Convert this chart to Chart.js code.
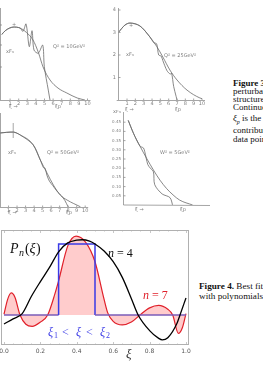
<!DOCTYPE html>
<html><head><meta charset="utf-8">
<script src="https://cdn.jsdelivr.net/npm/chart.js@4.4.1/dist/chart.umd.min.js"></script>
<style>
html,body{margin:0;padding:0;background:#fff;}
body{width:263px;height:365px;overflow:hidden;position:relative;}
canvas{position:absolute;}
.cap{position:absolute;left:0;font-family:"Liberation Serif",serif;font-size:9px;color:#111;white-space:nowrap;line-height:9px;}
.cap b{font-weight:bold;}
</style></head><body>
<div class="cap" style="left:233px;top:79px;"><b>Figure 3.</b> Structure functions from</div>
<div class="cap" style="left:233px;top:87px;">perturbative QCD and the</div>
<div class="cap" style="left:233px;top:95px;">structure of resonances.</div>
<div class="cap" style="left:233px;top:103px;">Continuous curves show</div>
<div class="cap" style="left:233px;top:114px;"><i>ξ<sub style="font-size:6px">p</sub></i> is the pion threshold</div>
<div class="cap" style="left:233px;top:126px;">contribution of the</div>
<div class="cap" style="left:233px;top:135px;">data points.</div>
<div class="cap" style="left:199px;top:282px;font-size:9.2px;"><b>Figure 4.</b> Best fit of the box</div>
<div class="cap" style="left:199px;top:292px;font-size:9.2px;">with polynomials of order n</div>
<script>
// ---------- Figure 4 data ----------
const xi4 = [0,0.05,0.1,0.15,0.2,0.25,0.3,0.35,0.4,0.43,0.47,0.5,0.55,0.6,0.65,0.7,0.737,0.8,0.85,0.87,0.9,0.95,0.967,1.0];
const p4  = [-0.127,-0.055,0.02,0.26,0.47,0.67,0.89,1.015,1.055,1.06,1.04,1.0,0.9,0.75,0.53,0.23,0,-0.22,-0.33,-0.352,-0.32,-0.12,0,0.24];
const xi7 = [0,0.02,0.04,0.06,0.088,0.12,0.155,0.2,0.24,0.28,0.3,0.35,0.396,0.45,0.5,0.55,0.57,0.6,0.65,0.7,0.747,0.8,0.85,0.9,0.927,0.958,0.98,1.0];
const p7  = [0.01,0.22,0.31,0.25,0,-0.13,-0.16,-0.1,0.0,0.3,0.48,0.97,1.11,1.02,0.75,0.22,0.03,-0.09,-0.14,-0.1,0.0,0.1,0.135,0.08,0,-0.26,-0.18,0.02];
const boxX = [0,0.3,0.3,0.5,0.5,1];
const boxY = [0,0,1,1,0,0];
const xTickLabels = ["0.0","0.2","0.4","0.6","0.8","1.0"];

// ---------- Figure 3 data (four panels) ----------
const aX  = [0,0.5,1.34,2.15,2.9,3.66,4.3,4.83,5.64,6.57,7.6,8.8,9.7];
const aY  = [2.9,3.1,3.24,3.2,3.0,2.67,2.1,1.47,0.89,0.53,0.31,0.09,0];
const aBX = [0,0.5,1.34,2.15,2.5,2.85,3.23,3.55,3.78,4.28,4.79,4.98,5.44,5.64];
const aBY = [2.9,3.1,3.24,3.2,3.05,3.38,2.37,3.08,2.22,2.08,2.44,1.48,0.44,0];
const bX  = [0,0.75,1.35,2.55,3.75,4.6,5.3,6.15,7.0,8.2,9.75,10.4];
const bY  = [3.02,3.33,3.42,3.29,2.8,2.36,1.91,1.33,0.89,0.44,0.09,0.02];
const bBX = [0,0.75,1.35,2.55,3.75,4.2,4.55,4.8,5.1,5.3,5.8,6.2,6.35,6.6,6.9,7.0];
const bBY = [3.02,3.33,3.42,3.29,2.8,2.55,2.5,2.0,1.95,1.75,1.3,1.15,1.2,0.6,0.15,0];
const cX  = [0,1.55,2.38,3.9,4.73,5.52,6.26,7.08,7.87,9.44];
const cY  = [3.29,3.33,3.2,2.76,2.09,1.51,0.98,0.53,0.31,0.01];
const cBX = [0,1.55,2.38,3.9,4.73,5.1,5.3,5.5,5.8,6.2,6.8,7.2,7.6,8.0];
const cBY = [3.29,3.33,3.2,2.76,2.09,1.75,1.72,1.42,1.15,0.95,0.65,0.5,0.3,0];
const dX  = [0.6,1.2,1.95,2.7,3.5,4.25,5.0,5.75,6.5,8.0];
const dY  = [0.46,0.39,0.32,0.255,0.19,0.135,0.09,0.055,0.027,0];
const dBX = [0.6,1.2,1.95,2.35,2.5,2.85,3.15,3.5,3.65,4.5,5.4,5.75];
const dBY = [0.46,0.39,0.32,0.31,0.29,0.22,0.2,0.18,0.11,0.06,0.04,-0.01];
const tenTicks = ["1","2","3","4","5","6","7","8","9","10"];
const dYTicks = ["0.45","0.40","0.35","0.30","0.25","0.20","0.15","0.10","0.05"];

function pts(xs, ys){ return xs.map((x,i)=>({x:x, y:ys[i]})); }

function makeCanvas(left, top, w, h){
  const c = document.createElement('canvas');
  c.width = w; c.height = h;
  c.style.left = left+'px'; c.style.top = top+'px';
  c.style.width = w+'px'; c.style.height = h+'px';
  document.body.appendChild(c);
  return c;
}

function baseOptions(pad, xr, yr){
  return {
    responsive:false, animation:false, devicePixelRatio:1,
    layout:{padding:pad},
    plugins:{legend:{display:false}, tooltip:{enabled:false}},
    elements:{point:{radius:0}},
    scales:{
      x:{type:'linear', display:false, min:xr[0], max:xr[1]},
      y:{type:'linear', display:false, min:yr[0], max:yr[1]}
    }
  };
}

// ---------- Figure 4 chart ----------
const fig4Extras = {
  id:'fig4Extras',
  afterDraw(chart){
    const {ctx, chartArea:a, scales:{x, y}} = chart;
    ctx.save();
    ctx.strokeStyle = '#b0b0b0'; ctx.lineWidth = 1;
    ctx.strokeRect(a.left+0.5, a.top+0.5, a.right-a.left-1, a.bottom-a.top-1);
    ctx.lineWidth = 0.7;
    for (let v=0; v<=1.0001; v+=0.05){
      const px = Math.round(x.getPixelForValue(v))+0.5;
      const L = (Math.round(v*100)%20===0) ? 3 : 1.5;
      ctx.beginPath(); ctx.moveTo(px, a.bottom); ctx.lineTo(px, a.bottom-L);
      ctx.moveTo(px, a.top); ctx.lineTo(px, a.top+L); ctx.stroke();
    }
    ctx.fillStyle = '#555'; ctx.font = '6px "DejaVu Sans", sans-serif';
    ctx.textAlign = 'center'; ctx.textBaseline = 'top';
    xTickLabels.forEach(t => {
      ctx.fillText(t, x.getPixelForValue(parseFloat(t)), a.bottom+3);
    });
    ctx.textAlign = 'left'; ctx.textBaseline = 'alphabetic';
    // P_n(xi)
    ctx.fillStyle = '#111';
    ctx.font = 'italic 14px "Liberation Serif", serif';
    ctx.fillText('P', 10, 28);
    ctx.font = 'italic 10px "Liberation Serif", serif';
    ctx.fillText('n', 19, 31);
    ctx.font = '14px "Liberation Serif", serif';
    ctx.fillText('(', 25, 28);
    ctx.font = 'italic 14px "Liberation Serif", serif';
    ctx.fillText('ξ', 29.5, 28);
    ctx.font = '14px "Liberation Serif", serif';
    ctx.fillText(')', 36, 28);
    // n = 4
    ctx.font = 'italic 12px "Liberation Serif", serif';
    ctx.fillText('n', 108, 32);
    ctx.font = '12px "Liberation Serif", serif';
    ctx.fillText('= 4', 117, 32);
    // n = 7
    ctx.fillStyle = '#e0202a';
    ctx.font = 'italic 12px "Liberation Serif", serif';
    ctx.fillText('n', 143, 74);
    ctx.font = '12px "Liberation Serif", serif';
    ctx.fillText('= 7', 152, 74);
    // xi1 < xi < xi2
    ctx.fillStyle = '#3b3be6';
    ctx.font = 'italic 12px "Liberation Serif", serif';
    ctx.fillText('ξ', 48, 111);
    ctx.font = '8px "Liberation Serif", serif';
    ctx.fillText('1', 54, 113);
    ctx.font = '12px "Liberation Serif", serif';
    ctx.fillText('<', 62, 111);
    ctx.font = 'italic 12px "Liberation Serif", serif';
    ctx.fillText('ξ', 76, 111);
    ctx.font = '12px "Liberation Serif", serif';
    ctx.fillText('<', 86, 111);
    ctx.font = 'italic 12px "Liberation Serif", serif';
    ctx.fillText('ξ', 100, 111);
    ctx.font = '8px "Liberation Serif", serif';
    ctx.fillText('2', 106, 113);
    // axis label
    ctx.fillStyle = '#333';
    ctx.font = 'italic 13px "Liberation Serif", serif';
    ctx.fillText('ξ', 126, 133);
    ctx.restore();
  }
};

const c4 = makeCanvas(0, 225, 200, 140);
const opt4 = baseOptions({left:1, right:11, top:5, bottom:20}, [-0.0165, 1.0165], [-0.423, 1.197]);
new Chart(c4, {
  type:'scatter',
  data:{datasets:[
    {data:pts(xi4,p4), showLine:true, borderColor:'#000', borderWidth:1.3, cubicInterpolationMode:'monotone', order:1},
    {data:pts(boxX,boxY), showLine:true, borderColor:'#3b3be6', borderWidth:1.5, tension:0, order:2,
      segment:{borderColor: s => (s.p0.parsed.y===0 && s.p1.parsed.y===0) ? '#7a5cb8' : '#3b3be6'}},
    {data:pts(xi7,p7), showLine:true, borderColor:'#e0202a', borderWidth:1.2, cubicInterpolationMode:'monotone',
      fill:'origin', backgroundColor:'rgba(255,120,120,0.38)', order:3}
  ]},
  options:opt4,
  plugins:[fig4Extras]
});

// ---------- Figure 3 panels ----------
function panel(left, top, w, h, pad, xr, yr, smooth, bumpy, extras){
  const c = makeCanvas(left, top, w, h);
  const ds = [
    {data:smooth, showLine:true, borderColor:'#6a6a6a', borderWidth:0.8, cubicInterpolationMode:'monotone'},
    {data:bumpy, showLine:true, borderColor:'#6a6a6a', borderWidth:0.8, tension:0.3}
  ];
  new Chart(c, {type:'scatter', data:{datasets:ds}, options:baseOptions(pad, xr, yr),
    plugins:[{id:'px'+left+top, afterDraw(chart){
      const {ctx, chartArea:a, scales:{x,y}} = chart;
      ctx.save(); ctx.strokeStyle='#808080'; ctx.fillStyle='#808080'; ctx.lineWidth=0.7;
      extras(ctx, a, x, y);
      ctx.restore();
    }}]
  });
}

function xAxisTen(ctx, a, x, y, y0, labY){
  ctx.beginPath(); ctx.moveTo(a.left-2, y0+0.5); ctx.lineTo(a.right+3, y0+0.5); ctx.stroke();
  ctx.font = '5px "DejaVu Sans", sans-serif'; ctx.textAlign='center'; ctx.textBaseline='top';
  tenTicks.forEach((t,i)=>{
    const px = x.getPixelForValue(i+1);
    ctx.beginPath(); ctx.moveTo(px, y0); ctx.lineTo(px, y0-1.5); ctx.stroke();
    ctx.fillText(t, px, labY);
  });
}

// top-left  Q^2 = 10
panel(0, 0, 100, 112, {left:1.5, right:12.5, top:10, bottom:12}, [0,10], [0,4], pts(aX,aY), pts(aBX,aBY),
  (ctx,a,x,y)=>{
    ctx.beginPath(); ctx.moveTo(0.5, 8); ctx.lineTo(0.5, a.bottom); ctx.stroke();
    [25,45,67].forEach(v=>{ctx.beginPath(); ctx.moveTo(0, v); ctx.lineTo(2, v); ctx.stroke();});
    xAxisTen(ctx,a,x,y,a.bottom,a.bottom+1.5);
    ctx.font='5px "DejaVu Sans", sans-serif'; ctx.textAlign='left'; ctx.textBaseline='middle';
    ctx.fillText('ξ →', 9, 107); ctx.fillText('ξp', 55, 107);
    ctx.fillText('Q² = 10GeV²', 53, 47); ctx.fillText('xF₃', 6, 52);
    ctx.fillText('+', 12, 25);
  });
// top-right Q^2 = 25
panel(100, 0, 110, 112, {left:18.7, right:8, top:10, bottom:12}, [0,10], [0,4], pts(bX,bY), pts(bBX,bBY),
  (ctx,a,x,y)=>{
    ctx.beginPath(); ctx.moveTo(18.5, 8); ctx.lineTo(18.5, a.bottom); ctx.stroke();
    ctx.font='5px "DejaVu Sans", sans-serif'; ctx.textAlign='right'; ctx.textBaseline='middle';
    ['1','2','3','4'].forEach((t,i)=>{const py=y.getPixelForValue(i+1); ctx.fillText(t, 16, py);
      ctx.beginPath(); ctx.moveTo(18.5,py); ctx.lineTo(20.5,py); ctx.stroke();});
    xAxisTen(ctx,a,x,y,a.bottom,a.bottom+1);
    ctx.textAlign='left';
    ctx.fillText('ξ →', 25, 107); ctx.fillText('ξp', 75, 107);
    ctx.fillText('Q² = 25GeV²', 64, 53); ctx.fillText('xF₃', 26, 52);
    ctx.fillText('+', 29, 23);
  });
// bottom-left Q^2 = 50
panel(0, 110, 100, 112, {left:0, right:14.8, top:7, bottom:15}, [0,10], [0,4], pts(cX,cY), pts(cBX,cBY),
  (ctx,a,x,y)=>{
    ctx.beginPath(); ctx.moveTo(0.5, 3); ctx.lineTo(0.5, a.bottom); ctx.stroke();
    const ex = x.getPixelForValue(1.55);
    ctx.beginPath(); ctx.moveTo(ex, 13); ctx.lineTo(ex, 28); ctx.stroke();
    xAxisTen(ctx,a,x,y,a.bottom,a.bottom+1.5);
    ctx.font='5px "DejaVu Sans", sans-serif'; ctx.textAlign='left'; ctx.textBaseline='middle';
    ctx.fillText('ξ →', 8, 103); ctx.fillText('ξp', 66, 103);
    ctx.fillText('Q² = 50GeV²', 47, 43); ctx.fillText('xF₃', 8, 43);
  });
// bottom-right W^2 = 5
panel(110, 110, 100, 112, {left:13, right:0, top:3, bottom:17}, [0,10], [0,0.5], pts(dX,dY), pts(dBX,dBY),
  (ctx,a,x,y)=>{
    ctx.beginPath(); ctx.moveTo(13.5, 2); ctx.lineTo(13.5, a.bottom); ctx.lineTo(a.right, a.bottom+0.5); ctx.stroke();
    ctx.font='4px "DejaVu Sans", sans-serif'; ctx.textAlign='right'; ctx.textBaseline='middle';
    dYTicks.forEach(t=>{const py=y.getPixelForValue(parseFloat(t)); ctx.fillText(t, 11, py);
      ctx.beginPath(); ctx.moveTo(13.5,py); ctx.lineTo(15.5,py); ctx.stroke();});
    ctx.textAlign='left'; ctx.font='5px "DejaVu Sans", sans-serif';
    ctx.fillText('xF₃', 3, 2);
    ctx.fillText('ξ →', 25, 100); ctx.fillText('ξp', 70, 100);
    ctx.fillText('W² = 5GeV²', 50, 43);
  });
</script>
</body></html>
